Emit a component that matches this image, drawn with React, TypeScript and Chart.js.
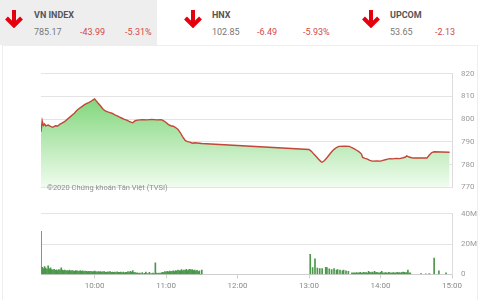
import React, { useEffect, useRef } from "react";
import { Chart, registerables } from "chart.js";
Chart.register(...registerables);

// ---------- DATA ----------
const priceTimes = [
  "09:15","09:16","09:17","09:18","09:19","09:21","09:23","09:25","09:27","09:29",
  "09:31","09:33","09:35","09:37","09:39","09:41","09:43","09:45","09:47","09:49",
  "09:51","09:53","09:55","09:57","09:59","10:00","10:01","10:03","10:05","10:07",
  "10:09","10:11","10:13","10:15","10:17","10:19","10:21","10:23","10:25","10:27",
  "10:29","10:31","10:32","10:34","10:36","10:40","10:44","10:48","10:52","10:56",
  "10:58","11:00","11:02","11:04","11:06","11:08","11:10","11:12","11:14","11:16",
  "11:18","11:20","11:22","11:24","11:26","11:28","11:30",
  "13:00","13:02","13:04","13:06","13:08","13:10","13:11","13:13","13:15","13:17",
  "13:19","13:21","13:23","13:25","13:30","13:34","13:36","13:38","13:40","13:42",
  "13:44","13:45","13:47","13:49","13:51","13:53","13:57","14:00","14:02","14:04",
  "14:06","14:08","14:10","14:13","14:16","14:19","14:21","14:22","14:24","14:26",
  "14:28","14:35","14:39","14:41","14:43","14:45","14:58"
];
const priceValues = [
  794.4,799.3,797.2,797.9,797.0,797.4,796.8,796.4,797.1,797.0,
  797.8,798.4,799.0,799.9,800.8,801.7,802.6,803.8,804.7,805.4,
  806.2,806.8,807.3,807.9,808.6,808.9,808.3,807.0,805.8,804.5,
  803.6,803.2,802.9,802.5,801.9,801.4,800.9,800.4,799.9,799.6,
  799.0,798.6,798.4,799.3,799.6,799.8,799.7,799.9,799.7,799.8,
  799.3,798.5,797.6,797.1,796.9,796.3,795.5,794.0,792.2,790.6,
  790.1,789.9,789.4,789.6,789.5,789.4,789.3,
  786.6,785.8,784.6,783.5,782.3,781.3,781.0,781.8,783.0,784.3,
  785.6,786.7,787.5,788.0,788.1,788.0,787.4,786.9,786.3,785.6,
  784.6,783.1,782.7,782.4,781.8,781.5,781.6,781.5,781.8,782.1,
  782.4,782.6,782.5,782.7,782.6,783.0,783.3,783.8,783.3,783.0,
  782.9,782.9,782.9,784.2,785.3,785.6,785.4
];

// morning volumes (millions), one per minute from 09:15 to 11:30
const morningVolStart = "09:15";
const morningVolumes = [
  28.5,4.6,3.9,5.2,4.1,3.3,5.6,3.6,4.3,3.1,
  2.9,3.4,2.7,3.0,2.6,3.2,2.8,4.3,2.9,2.5,
  2.8,2.4,2.6,2.3,2.9,2.2,2.5,2.4,2.1,2.6,
  2.3,2.2,2.0,2.5,2.1,2.3,1.9,2.2,2.0,1.8,
  2.1,1.9,2.0,1.7,1.9,2.2,1.8,1.6,1.9,1.7,
  1.8,1.5,1.7,1.9,1.6,1.4,1.7,1.5,1.8,1.3,
  1.6,1.4,1.5,1.2,1.7,1.4,1.3,1.6,1.2,1.5,
  1.1,1.4,1.3,1.8,1.2,2.0,1.5,2.6,1.4,1.2,
  0.9,1.1,0.6,0.8,0.4,1.2,0.3,0.7,1.5,0.5,
  0.4,1.3,0.3,0.6,0.9,0.2,7.6,0.8,0.5,0.9,
  0.6,1.1,1.4,1.2,1.8,1.5,2.0,1.7,2.2,1.9,
  2.1,2.4,1.8,2.6,2.2,2.8,2.3,2.5,3.1,2.4,
  2.9,2.7,3.3,2.6,3.0,3.4,2.8,3.2,2.5,2.9,
  2.2,2.7,1.9,2.4,0.0,2.8
];

// afternoon sparse volumes
const afternoonVolTimes = [
  "13:01","13:03","13:05","13:07","13:09","13:11","13:14","13:15","13:17","13:19",
  "13:21","13:23","13:24","13:26","13:28","13:29","13:31","13:33"
];
const afternoonVolumes = [
  13.3,4.5,10.3,4.1,3.9,3.9,4.7,4.5,3.6,3.2,
  3.8,2.8,3.2,2.8,2.4,2.8,2.4,2.1
];
// afternoon dense volumes, one per minute from 13:36 to 14:25
const denseVolStart = "13:36";
const denseVolumes = [
  1.0,0.8,1.1,0.9,1.2,0.8,1.0,1.3,0.9,1.1,
  1.4,1.0,1.2,0.9,2.0,1.3,1.1,1.5,1.0,2.1,
  1.2,1.4,1.0,0.9,1.3,2.0,1.1,0.8,1.2,1.0,
  0.9,1.3,1.1,0.8,1.0,1.2,0.9,1.1,1.4,1.0,
  1.2,0.9,1.3,1.6,1.4,1.0,1.2,2.8,0.8,1.1
];
const closingVolTimes = ["14:34","14:38","14:41","14:45","14:49","14:55"];
const closingVolumes = [0.5,0.4,0.5,10.8,2.4,1.0];

const xTickLabels = ["10:00","11:00","12:00","13:00","14:00","15:00"];
const priceTicks = [770,780,790,800,810,820];
const volTicks = [0,20,40];

const headerItems = [
  { name: "VN INDEX", value: "785.17", change: "-43.99", pct: "-5.31%" },
  { name: "HNX", value: "102.85", change: "-6.49", pct: "-5.93%" },
  { name: "UPCOM", value: "53.65", change: "-2.13", pct: "" },
];
const watermark = "©2020 Chứng khoán Tân Việt (TVSI)";

// ---------- helpers ----------
const toMin = (s: string) => {
  const [h, m] = s.split(":").map(Number);
  return h * 60 + m;
};
const X_MIN = toMin("09:15");
const X_MAX = toMin("15:00");
const FONT = "Roboto";

function xScale(display: boolean) {
  return {
    type: "linear" as const,
    min: X_MIN,
    max: X_MAX,
    offset: false,
    display,
    afterBuildTicks: (s: any) => {
      s.ticks = xTickLabels.map((t) => ({ value: toMin(t) }));
    },
    grid: { drawOnChartArea: false, offset: false, tickLength: 4, color: "#cfcfcf" },
    border: { display: true, color: "#cfcfcf" },
    ticks: {
      color: "#8a8a8a",
      padding: 3,
      maxRotation: 0,
      font: { size: 8, family: FONT },
      callback: (v: any) => {
        const h = Math.floor(v / 60);
        const m = v % 60;
        return `${h}:${m < 10 ? "0" + m : m}`;
      },
    },
  };
}

function PriceChart() {
  const ref = useRef<HTMLCanvasElement>(null);
  useEffect(() => {
    const data = priceTimes.map((t, i) => ({ x: toMin(t), y: priceValues[i] }));
    const chart = new Chart(ref.current!, {
      type: "line",
      data: {
        datasets: [
          {
            data,
            borderColor: "rgb(196,70,58)",
            borderWidth: 1.4,
            pointRadius: 0,
            tension: 0,
            fill: "start",
            backgroundColor: (ctx: any) => {
              const { chart } = ctx;
              const area = chart.chartArea;
              if (!area) return "rgba(120,210,110,0.5)";
              const g = chart.ctx.createLinearGradient(0, area.top, 0, area.bottom);
              g.addColorStop(0, "rgb(98,204,92)");
              g.addColorStop(1, "rgb(240,252,238)");
              return g;
            },
          },
        ],
      },
      options: {
        animation: false,
        responsive: false,
        maintainAspectRatio: false,
        layout: { padding: { left: 41, top: 12, right: 0, bottom: 6 } },
        plugins: { legend: { display: false }, tooltip: { enabled: false } },
        scales: {
          x: xScale(false) as any,
          y: {
            position: "right",
            min: 770,
            max: 820,
            afterBuildTicks: (s: any) => {
              s.ticks = priceTicks.map((v) => ({ value: v }));
            },
            afterFit: (s: any) => {
              s.width = 28;
            },
            grid: { color: "#e4e4e4", drawTicks: false },
            border: { display: true, color: "#dcdcdc" },
            ticks: { color: "#9a9a9a", padding: 9, font: { size: 8, family: FONT } },
          },
        },
      },
    });
    return () => chart.destroy();
  }, []);
  return (
    <canvas
      ref={ref}
      width={480}
      height={141}
      style={{ position: "absolute", left: 0, top: 60, width: 480, height: 141 }}
    />
  );
}

function VolumeChart() {
  const ref = useRef<HTMLCanvasElement>(null);
  useEffect(() => {
    const pts: { x: number; y: number }[] = [];
    const ms = toMin(morningVolStart);
    morningVolumes.forEach((v, i) => pts.push({ x: ms + i, y: v }));
    afternoonVolTimes.forEach((t, i) => pts.push({ x: toMin(t), y: afternoonVolumes[i] }));
    const ds = toMin(denseVolStart);
    denseVolumes.forEach((v, i) => pts.push({ x: ds + i, y: v }));
    closingVolTimes.forEach((t, i) => pts.push({ x: toMin(t), y: closingVolumes[i] }));
    const chart = new Chart(ref.current!, {
      type: "bar",
      data: {
        datasets: [
          {
            data: pts,
            backgroundColor: "rgb(74,152,74)",
            borderWidth: 0,
            barThickness: 1,
          },
        ],
      },
      options: {
        animation: false,
        responsive: false,
        maintainAspectRatio: false,
        layout: { padding: { left: 41, top: 5, right: 0, bottom: 6 } },
        plugins: { legend: { display: false }, tooltip: { enabled: false } },
        scales: {
          x: xScale(true) as any,
          y: {
            position: "right",
            min: 0,
            max: 40,
            afterBuildTicks: (s: any) => {
              s.ticks = volTicks.map((v) => ({ value: v }));
            },
            afterFit: (s: any) => {
              s.width = 28;
            },
            grid: { color: "#e4e4e4", drawTicks: false },
            border: { display: true, color: "#dcdcdc" },
            ticks: {
              color: "#9a9a9a",
              padding: 9,
              font: { size: 8, family: FONT },
              callback: (v: any) => (v === 0 ? "0" : `${v}M`),
            },
          },
        },
      },
    });
    return () => chart.destroy();
  }, []);
  return (
    <canvas
      ref={ref}
      width={480}
      height={100}
      style={{ position: "absolute", left: 0, top: 200, width: 480, height: 100 }}
    />
  );
}

function Arrow({ left }: { left: number }) {
  return (
    <svg
      width={20}
      height={18}
      viewBox="0 0 20 18"
      style={{ position: "absolute", left, top: 10 }}
    >
      <path d="M10 0 V15" stroke="#e3000f" strokeWidth={4} fill="none" />
      <path d="M2.5 8 L10 15.5 L17.5 8" stroke="#e3000f" strokeWidth={4} fill="none" />
    </svg>
  );
}

const txt = (left: number, top: number, color: string, bold = false): React.CSSProperties => ({
  position: "absolute",
  left,
  top,
  color,
  fontSize: 9,
  lineHeight: "12px",
  fontWeight: bold ? 700 : 400,
  fontFamily: FONT,
  whiteSpace: "nowrap",
});

export default function App() {
  const red = "rgb(212,72,72)";
  const gray = "#777";
  const titleC = "#555";
  const cols = [
    { arrow: 4, text: 34, change: 80, pct: 125 },
    { arrow: 183, text: 212, change: 257, pct: 303 },
    { arrow: 361, text: 390, change: 435, pct: 0 },
  ];
  return (
    <div
      style={{
        position: "fixed",
        left: 0,
        top: 0,
        width: 480,
        height: 300,
        background: "#fff",
        overflow: "hidden",
      }}
    >
      <div style={{ position: "absolute", left: 0, top: 0, width: 157, height: 45, background: "#eeeeee" }} />
      <div
        style={{
          position: "absolute",
          left: 2,
          top: 45,
          width: 476,
          height: 260,
          borderLeft: "1px solid #eeeeee",
          borderTop: "1px solid #eeeeee",
          borderRight: "1px solid #eeeeee",
          boxSizing: "border-box",
        }}
      />
      {headerItems.map((h, i) => (
        <React.Fragment key={h.name}>
          <Arrow left={cols[i].arrow} />
          <div style={txt(cols[i].text, 9, titleC, true)}>{h.name}</div>
          <div style={txt(cols[i].text, 26, gray)}>{h.value}</div>
          <div style={txt(cols[i].change, 26, red)}>{h.change}</div>
          {h.pct && <div style={txt(cols[i].pct, 26, red)}>{h.pct}</div>}
        </React.Fragment>
      ))}
      <PriceChart />
      <VolumeChart />
      <div
        style={{
          position: "absolute",
          left: 47,
          top: 182,
          fontSize: 7.5,
          lineHeight: "12px",
          color: "#8e8e8e",
          fontFamily: FONT,
          whiteSpace: "nowrap",
        }}
      >
        {watermark}
      </div>
    </div>
  );
}
